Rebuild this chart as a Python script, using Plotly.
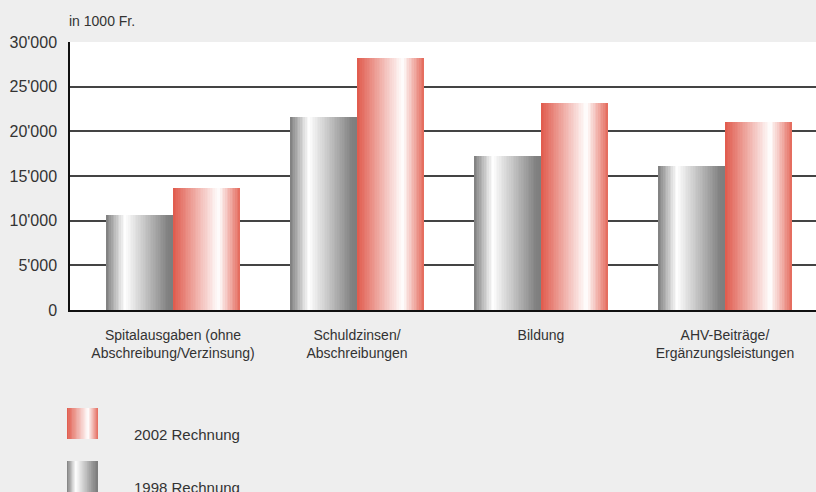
import plotly.graph_objects as go

categories = [
    "Spitalausgaben (ohne<br>Abschreibung/Verzinsung)",
    "Schuldzinsen/<br>Abschreibungen",
    "Bildung",
    "AHV-Beiträge/<br>Ergänzungsleistungen",
]
rechnung_1998 = [10600, 21600, 17200, 16100]
rechnung_2002 = [13650, 28200, 23150, 21000]
y_ticks = [0, 5000, 10000, 15000, 20000, 25000, 30000]

# gradient stops (position, rgb) for the shaded bars
GRAY_STOPS = [(0.0, (125, 125, 125)), (0.28, (255, 255, 255)), (0.93, (128, 128, 128)), (1.0, (125, 125, 125))]
RED_STOPS = [(0.0, (224, 90, 76)), (0.68, (255, 255, 255)), (1.0, (228, 104, 90))]

W, H = 816, 492
L, R, T, B = 70, 0, 42, 182
N_STRIPS = 40
BAR_W = 0.364
FONT = "Liberation Sans, Arial, sans-serif"


def grad_color(stops, t):
    for (p0, c0), (p1, c1) in zip(stops, stops[1:]):
        if p0 <= t <= p1:
            f = (t - p0) / (p1 - p0) if p1 > p0 else 0
            r, g, b = (round(a + (b_ - a) * f) for a, b_ in zip(c0, c1))
            return f"rgb({r},{g},{b})"
    return "rgb(%d,%d,%d)" % stops[-1][1]


def px_x(px):
    return (px - L) / (W - L - R)


def px_y(py):
    return (H - B - py) / (H - B - T)


fig = go.Figure()

# each bar is drawn as thin vertical strips to imitate the cylinder shading
for values, stops, start in [(rechnung_1998, GRAY_STOPS, -BAR_W), (rechnung_2002, RED_STOPS, 0.0)]:
    sw = BAR_W / N_STRIPS
    for k in range(N_STRIPS):
        t = (k + 0.5) / N_STRIPS
        extra = sw * 0.5 if k < N_STRIPS - 1 else 0
        fig.add_trace(go.Bar(
            x=categories, y=values,
            width=sw + extra, offset=start + k * sw,
            marker=dict(color=grad_color(stops, t), line=dict(width=0)),
            showlegend=False, hoverinfo="skip",
        ))

# legend swatches
legend_items = [("2002 Rechnung", RED_STOPS, 408), ("1998 Rechnung", GRAY_STOPS, 461)]
shapes = []
annotations = []
for label, stops, top in legend_items:
    x0, x1 = 67, 98
    n = 24
    for k in range(n):
        a = x0 + (x1 - x0) * k / n
        b = x0 + (x1 - x0) * (k + 1) / n + (0.5 if k < n - 1 else 0)
        shapes.append(dict(
            type="rect", xref="paper", yref="paper",
            x0=px_x(a), x1=px_x(b), y0=px_y(top), y1=px_y(top + 31),
            fillcolor=grad_color(stops, (k + 0.5) / n), line=dict(width=0), layer="above",
        ))
    annotations.append(dict(
        text=label, xref="paper", yref="paper", x=px_x(132), y=px_y(top + 26),
        xanchor="left", yanchor="middle", showarrow=False,
        font=dict(size=15, color="#333333"),
    ))

annotations.append(dict(
    text="in 1000 Fr.", xref="paper", yref="paper", x=px_x(67), y=px_y(21),
    xanchor="left", yanchor="middle", showarrow=False,
    font=dict(size=14, color="#333333"),
))

fig.update_layout(
    width=W, height=H,
    margin=dict(l=L, r=R, t=T, b=B),
    paper_bgcolor="#eeeeee", plot_bgcolor="#ffffff",
    barmode="overlay", bargap=0,
    separators=".'",
    font=dict(family=FONT, color="#333333"),
    xaxis=dict(
        type="category", range=[-0.56, 3.495],
        showgrid=False, showline=True, linecolor="#111111", linewidth=2,
        ticks="", ticklabelstandoff=11, tickfont=dict(size=14, color="#333333"),
    ),
    yaxis=dict(
        range=[0, 30000], tickvals=y_ticks, tickformat=",",
        showgrid=True, gridcolor="#444444", gridwidth=1.5,
        zeroline=False, showline=True, linecolor="#111111", linewidth=1.5,
        ticks="", ticklabelstandoff=8, tickfont=dict(size=16, color="#333333"),
    ),
    shapes=shapes,
    annotations=annotations,
)

fig.write_html(
    "out.html",
    config={"displayModeBar": False},
    post_script="document.body.style.margin='0';",
)
